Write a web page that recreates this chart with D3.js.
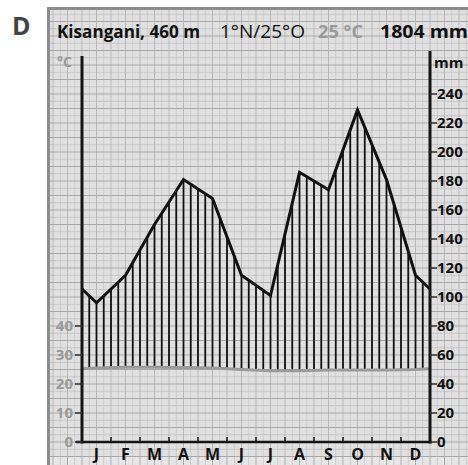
<!DOCTYPE html>
<html>
<head>
<meta charset="utf-8">
<script src="https://cdn.jsdelivr.net/npm/d3@7"></script>
<style>
  body { margin: 0; background: #fff; }
  svg { display: block; font-family: "Open Sans", sans-serif; }
</style>
</head>
<body>
<svg width="468" height="465"></svg>
<script>
// Data
const months = ["J", "F", "M", "A", "M", "J", "J", "A", "S", "O", "N", "D"];
const precip = [96, 115, 150, 181, 168, 115, 101, 186, 174, 229, 181, 115];
const temp = [25.5, 25.8, 25.8, 25.7, 25.5, 25.0, 24.6, 24.6, 24.8, 24.8, 24.8, 25.0];
const tempTicks = [0, 10, 20, 30, 40];
const precipTicks = [0, 20, 40, 60, 80, 100, 120, 140, 160, 180, 200, 220, 240];

const svg = d3.select("svg"),
    width = +svg.attr("width"),
    height = +svg.attr("height");

const left = 82, right = 430, bottom = 442;

// Scales
const x = d3.scaleLinear().domain([0, 12]).range([left, right]);
const yT = d3.scaleLinear().domain([0, 50]).range([bottom, bottom - 145]);
const yP = d3.scaleLinear().domain([0, 100]).range([bottom, bottom - 145]);

// Graph paper background
const paper = svg.append("g");
paper.append("rect")
    .attr("x", 48).attr("y", 8)
    .attr("width", width - 48).attr("height", height - 8)
    .attr("fill", "#eeeeee");
const step = 1.45;
const gridColor = k => k % 10 === 0 ? "#a8a8a8" : (k % 5 === 0 ? "#bdbdbd" : "#d6d6d6");
const gridWidth = k => k % 10 === 0 ? 1 : (k % 5 === 0 ? 0.8 : 0.5);
const off = Math.round((left - 48) / step);
for (let i = 0; 48 + i * step < width; i++) {
    const k = i - off;
    const gx = left + k * step;
    if (gx < 49) continue;
    paper.append("line")
        .attr("x1", gx).attr("x2", gx).attr("y1", 9).attr("y2", height)
        .attr("stroke", gridColor(Math.abs(k))).attr("stroke-width", gridWidth(Math.abs(k)));
}
for (let i = -10; bottom - i * step > 8; i++) {
    const gy = bottom - i * step;
    if (gy > height) continue;
    paper.append("line")
        .attr("x1", 49).attr("x2", width).attr("y1", gy).attr("y2", gy)
        .attr("stroke", gridColor(Math.abs(i))).attr("stroke-width", gridWidth(Math.abs(i)));
}
// frame
svg.append("path")
    .attr("d", `M48.5,${height} V8.5 H${width}`)
    .attr("fill", "none").attr("stroke", "#8c8c8c").attr("stroke-width", 3);

// Extended series (wrap Dec before Jan and Jan after Dec)
const pExt = [precip[11], ...precip, precip[0]];
const tExt = [temp[11], ...temp, temp[0]];
const xs = d3.range(-1, 13).map(i => i + 0.5);

function interp(arr, m) {
    const i = Math.floor(m + 0.5);
    const t = m + 0.5 - i;
    return arr[i] + (arr[i + 1] - arr[i]) * t;
}

svg.append("clipPath").attr("id", "plot")
    .append("rect").attr("x", left).attr("y", 0).attr("width", right - left).attr("height", bottom);

// Hatching between temperature and precipitation
const hatch = d3.range(1, 48).map(k => k * 0.25);
svg.append("g")
    .selectAll("line")
    .data(hatch)
    .join("line")
        .attr("x1", d => x(d)).attr("x2", d => x(d))
        .attr("y1", d => yT(interp(tExt, d)))
        .attr("y2", d => yP(interp(pExt, d)))
        .attr("stroke", "#111")
        .attr("stroke-width", 1.8);

// Temperature line
svg.append("path")
    .attr("clip-path", "url(#plot)")
    .datum(xs.map((m, i) => [m, tExt[i]]))
    .attr("d", d3.line().x(d => x(d[0])).y(d => yT(d[1])))
    .attr("fill", "none").attr("stroke", "#9b9b9b").attr("stroke-width", 3);

// Precipitation line
svg.append("path")
    .attr("clip-path", "url(#plot)")
    .datum(xs.map((m, i) => [m, pExt[i]]))
    .attr("d", d3.line().x(d => x(d[0])).y(d => yP(d[1])))
    .attr("fill", "none").attr("stroke", "#111").attr("stroke-width", 3)
    .attr("stroke-linejoin", "miter");

// Axes
const axisColor = "#151515";
svg.append("line").attr("x1", left).attr("x2", left).attr("y1", 56).attr("y2", bottom + 1.5)
    .attr("stroke", axisColor).attr("stroke-width", 3);
svg.append("line").attr("x1", right).attr("x2", right).attr("y1", 51).attr("y2", bottom + 1.5)
    .attr("stroke", axisColor).attr("stroke-width", 3);
svg.append("line").attr("x1", left - 6).attr("x2", right + 2).attr("y1", bottom).attr("y2", bottom)
    .attr("stroke", axisColor).attr("stroke-width", 2.5);

// Month ticks and labels
svg.append("g").selectAll("line")
    .data(d3.range(1, 12))
    .join("line")
        .attr("x1", d => x(d)).attr("x2", d => x(d))
        .attr("y1", bottom).attr("y2", bottom - 5)
        .attr("stroke", axisColor).attr("stroke-width", 1.5);
svg.append("g").selectAll("text")
    .data(months)
    .join("text")
        .attr("x", (d, i) => x(i + 0.5))
        .attr("y", 460)
        .attr("text-anchor", "middle")
        .attr("font-size", 16).attr("font-weight", "bold")
        .attr("fill", "#111")
        .text(d => d);

// Temperature ticks (left)
const tg = svg.append("g").selectAll("g").data(tempTicks).join("g")
    .attr("transform", d => `translate(0,${yT(d)})`);
tg.append("line").attr("x1", left - 7).attr("x2", left).attr("stroke", "#333").attr("stroke-width", 1.5);
tg.append("text").attr("x", 73).attr("dy", "0.35em").attr("text-anchor", "end")
    .attr("font-size", 15).attr("font-weight", "bold").attr("fill", "#9a9a9a")
    .text(d => d);

// Precipitation ticks (right)
const pg = svg.append("g").selectAll("g").data(precipTicks).join("g")
    .attr("transform", d => `translate(0,${yP(d)})`);
pg.append("line").attr("x1", right).attr("x2", right + 7).attr("stroke", "#333").attr("stroke-width", 1.5);
pg.append("text").attr("x", 437).attr("dy", "0.35em")
    .attr("font-size", 15).attr("font-weight", "bold").attr("fill", "#111")
    .text(d => d);

// Unit labels
svg.append("text").attr("x", 57).attr("y", 67).attr("font-size", 14).attr("font-weight", "bold")
    .attr("fill", "#9a9a9a").text("°C");
svg.append("text").attr("x", 434).attr("y", 68).attr("font-size", 15).attr("font-weight", "bold")
    .attr("fill", "#111").text("mm");

// Title row
const title = svg.append("g").attr("font-size", 18);
title.append("text").attr("x", 57).attr("y", 38).attr("font-weight", "bold").attr("fill", "#111")
    .attr("textLength", 143).attr("lengthAdjust", "spacingAndGlyphs").text("Kisangani, 460 m");
title.append("text").attr("x", 220).attr("y", 38).attr("fill", "#111")
    .attr("textLength", 85).attr("lengthAdjust", "spacingAndGlyphs").text("1°N/25°O");
title.append("text").attr("x", 318).attr("y", 38).attr("font-weight", "bold").attr("fill", "#9a9a9a")
    .attr("textLength", 45).attr("lengthAdjust", "spacingAndGlyphs").text("25 °C");
title.append("text").attr("x", 380).attr("y", 38).attr("font-weight", "bold").attr("fill", "#111")
    .attr("textLength", 88).attr("lengthAdjust", "spacingAndGlyphs").text("1804 mm");

// Panel letter
svg.append("text").attr("x", 12).attr("y", 35).attr("font-size", 25).attr("font-weight", "bold")
    .attr("fill", "#444").text("D");
</script>
</body>
</html>
